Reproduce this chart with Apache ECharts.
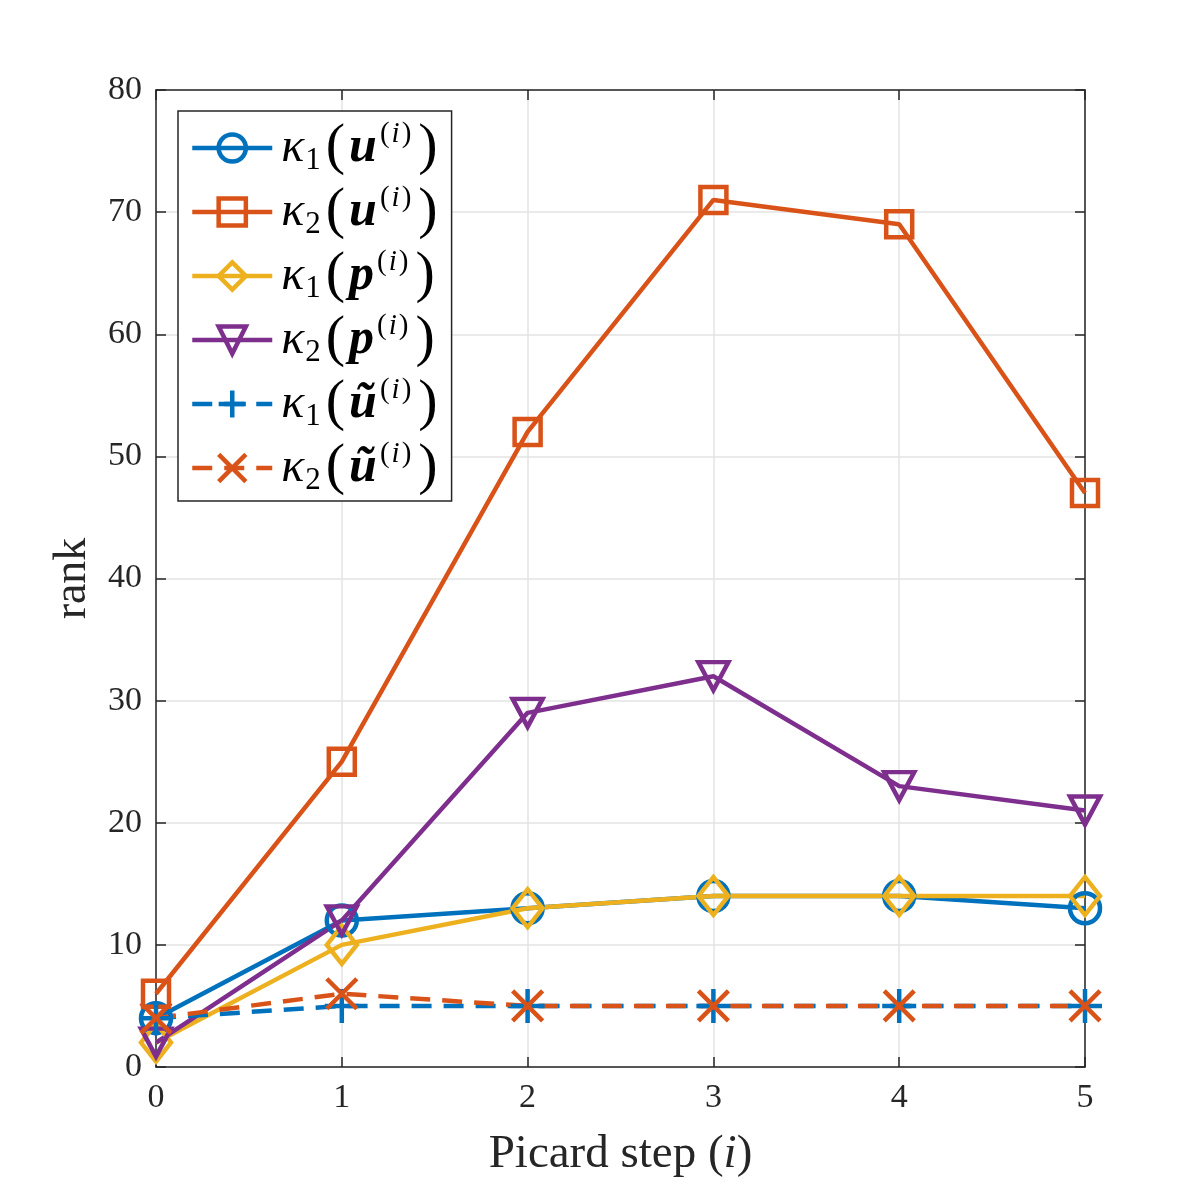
<!DOCTYPE html>
<html>
<head>
<meta charset="utf-8">
<script src="https://cdn.jsdelivr.net/npm/echarts@6/dist/echarts.min.js"></script>
<style>
html,body{margin:0;padding:0;background:#fff;}
#chart{width:1200px;height:1200px;}
</style>
</head>
<body>
<div id="chart"></div>
<script>
// picard steps and ranks
const steps=[0,1,2,3,4,5];
const k1u=[4,12,13,14,14,13];
const k2u=[6,25,52,71,69,47];
const k1p=[2,10,13,14,14,14];
const k2p=[2,12,29,32,23,21];
const k1ut=[4,5,5,5,5,5];
const k2ut=[4,6,5,5,5,5];
const yTicks=[0,10,20,30,40,50,60,70,80];

const BLUE='#0072BD',RED='#D95319',YEL='#EDB120',PUR='#7E2F8E',INK='#262626';
const FONT='Liberation Serif';

// legend labels as rich text
const labels={
    k1u:'{k|κ}{s|1}{p|(}{b|u}{sp|(}{si|i}{sp|)}{q|)}',
    k2u:'{k|κ}{s|2}{p|(}{b|u}{sp|(}{si|i}{sp|)}{q|)}',
    k1p:'{k|κ}{s|1}{p|(}{b|p}{sp|(}{si|i}{sp|)}{q|)}',
    k2p:'{k|κ}{s|2}{p|(}{b|p}{sp|(}{si|i}{sp|)}{q|)}',
    k1ut:'{k|κ}{s|1}{p|(}{b|ũ}{sp|(}{si|i}{sp|)}{q|)}',
    k2ut:'{k|κ}{s|2}{p|(}{b|ũ}{sp|(}{si|i}{sp|)}{q|)}'
};

function mk(name,data,color,symbol,size,dashed){
    return {
        name:name,type:'line',data:steps.map((s,i)=>[s,data[i]]),
        symbol:symbol,symbolSize:size,showAllSymbol:true,
        lineStyle:{color:color,width:4.5,type:dashed?[20,12]:'solid'},
        itemStyle:{color:'rgba(0,0,0,0)',borderColor:color,borderWidth:4.5},
        emphasis:{disabled:true}
    };
}

const LH=56;
const chart=echarts.init(document.getElementById('chart'));
chart.setOption({
    animation:false,
    backgroundColor:'#fff',
    grid:{left:156,right:115,top:90,bottom:133,containLabel:false},
    legend:{
        left:178,top:111,orient:'vertical',
        backgroundColor:'#fff',borderColor:INK,borderWidth:1.5,
        padding:[8,14,4,12],itemGap:6,itemWidth:80,itemHeight:34,
        lineStyle:{width:4.5},itemStyle:{borderWidth:4.5},
        data:Object.keys(labels),
        formatter:n=>labels[n],
        textStyle:{
            color:'#000',fontFamily:FONT,
            rich:{
                k:{fontSize:48,fontStyle:'italic',fontFamily:FONT,lineHeight:LH,padding:[0,1,0,4]},
                s:{fontSize:31,fontFamily:FONT,verticalAlign:'bottom',lineHeight:LH,padding:[22,5,0,0]},
                p:{fontSize:58,fontFamily:FONT,lineHeight:LH,padding:[0,4,0,0]},
                q:{fontSize:58,fontFamily:FONT,lineHeight:LH,padding:[0,0,0,6]},
                b:{fontSize:50,fontStyle:'italic',fontWeight:'bold',fontFamily:FONT,lineHeight:LH,padding:[0,2,0,0]},
                sp:{fontSize:29,fontFamily:FONT,verticalAlign:'top',lineHeight:LH,padding:[0,1,22,1]},
                si:{fontSize:29,fontStyle:'italic',fontFamily:FONT,verticalAlign:'top',lineHeight:LH,padding:[0,1,22,1]}
            }
        }
    },
    xAxis:[{
        type:'value',min:0,max:5,interval:1,
        name:'Picard step ({i|i})',nameLocation:'middle',nameGap:64,
        nameTextStyle:{color:INK,fontSize:47,fontFamily:FONT,rich:{i:{fontSize:47,fontStyle:'italic',fontFamily:FONT,color:INK}}},
        axisLine:{onZero:false,lineStyle:{color:INK,width:1.5}},
        axisTick:{inside:true,length:10,lineStyle:{color:INK,width:1.5}},
        axisLabel:{color:INK,fontSize:34,fontFamily:FONT,margin:14},
        splitLine:{show:true,lineStyle:{color:'#e3e3e3',width:1.5}}
    },{
        type:'value',min:0,max:5,interval:1,position:'top',
        axisLine:{show:true,onZero:false,lineStyle:{color:INK,width:1.5}},
        axisTick:{inside:true,length:10,lineStyle:{color:INK,width:1.5}},
        axisLabel:{show:false},splitLine:{show:false}
    }],
    yAxis:[{
        type:'value',min:0,max:80,interval:10,
        name:'rank',nameLocation:'middle',nameGap:60,
        nameTextStyle:{color:INK,fontSize:46,fontFamily:FONT},
        axisLine:{show:true,onZero:false,lineStyle:{color:INK,width:1.5}},
        axisTick:{show:true,inside:true,length:10,lineStyle:{color:INK,width:1.5}},
        axisLabel:{color:INK,fontSize:34,fontFamily:FONT,margin:14,
            formatter:v=>yTicks.includes(v)?String(v):''},
        splitLine:{show:true,lineStyle:{color:'#e3e3e3',width:1.5}}
    },{
        type:'value',min:0,max:80,interval:10,position:'right',
        axisLine:{show:true,onZero:false,lineStyle:{color:INK,width:1.5}},
        axisTick:{show:true,inside:true,length:10,lineStyle:{color:INK,width:1.5}},
        axisLabel:{show:false},splitLine:{show:false}
    }],
    series:[
        mk('k1u',k1u,BLUE,'circle',30,false),
        mk('k2u',k2u,RED,'rect',26,false),
        mk('k1p',k1p,YEL,'diamond',[30,38],false),
        mk('k2p',k2p,PUR,'path://M-1,-0.85 L1,-0.85 L0,0.95 Z',[30,28],false),
        mk('k1ut',k1ut,BLUE,'path://M0,-1 L0,1 M-1,0 L1,0',34,true),
        mk('k2ut',k2ut,RED,'path://M-1,-1 L1,1 M-1,1 L1,-1',30,true)
    ]
});
</script>
</body>
</html>
